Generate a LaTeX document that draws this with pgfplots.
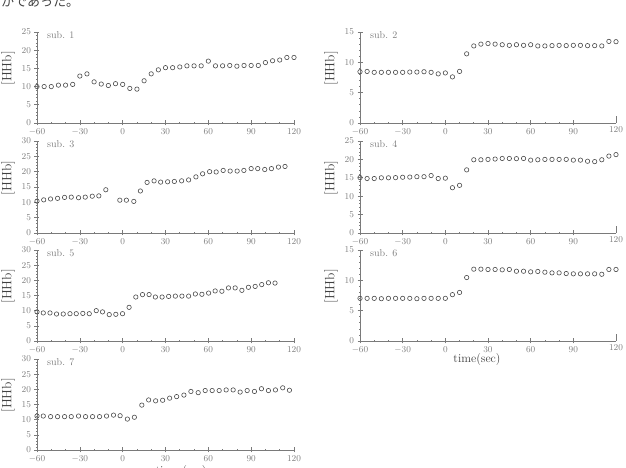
\documentclass[border=0pt]{standalone}
\usepackage{pgfplots}
\pgfplotsset{compat=1.18}
\usepackage{fontspec}
\newfontfamily\cjk{Noto Sans CJK JP}
\definecolor{axgray}{HTML}{7A7A7A}
\definecolor{labgray}{HTML}{7C7C7C}
\definecolor{mkgray}{HTML}{4A4A4A}
\pgfplotsset{
  hhb/.style={
    scale only axis, width=257pt, height=91pt,
    xmin=-60, xmax=120, ymin=0,
    axis x line=bottom, axis y line=left,
    axis line style={-, draw=axgray, line width=0.8pt},
    xtick={-60,-30,...,120}, minor x tick num=2,
    minor y tick num=4,
    tick align=center, major tick length=5pt, minor tick length=2pt,
    every tick/.style={draw=axgray, line width=0.6pt},
    tick label style={font=\fontsize{9}{10}\selectfont, text=labgray},
    clip=false, enlargelimits=false,
  },
  hhbr/.style={hhb, width=256pt,
    xtick={-60,-30,...,90},
    extra x ticks={120},
    extra x tick style={tick align=inside, major tick length=7pt},
  },
  mk/.style={only marks, mark=o, mark size=2.2pt, mark options={draw=mkgray, line width=0.6pt}},
}
\newcommand{\sublab}[1]{\node[anchor=north west, inner sep=0pt, xshift=10pt, yshift=1pt, text=labgray, font=\fontsize{10}{11}\selectfont] at (rel axis cs:0,1) {#1};}
\newcommand{\ylab}{\node[rotate=90, anchor=center, inner sep=0pt, text=black!75, font=\fontsize{13.5}{14}\selectfont] at ([xshift=-29pt]rel axis cs:0,0.6) {[HHb]};}
\begin{document}
\begin{tikzpicture}
\path[use as bounding box] (0pt,0pt) rectangle (626pt,468pt);
\node[anchor=base west, inner sep=0pt, text=black!75, font=\cjk\fontsize{13}{13}\selectfont] at (1pt,461pt) {かであった。};

% sub.1
\begin{axis}[hhb, at={(37pt,345pt)}, anchor=south west, ymax=25, ytick={0,5,...,25}]
\addplot[mk] coordinates {(-60,10.0)(-55,10.0)(-50,10.0)(-45,10.4)(-40,10.4)(-35,10.6)(-30,12.9)(-25,13.5)(-20,11.3)(-15,10.7)(-10,10.3)(-5,10.8)(0,10.6)(5,9.5)(10,9.3)(15,11.6)(20,13.5)(25,14.6)(30,15.2)(35,15.2)(40,15.4)(45,15.7)(50,15.7)(55,15.7)(60,17.0)(65,15.7)(70,15.7)(75,15.8)(80,15.6)(85,15.8)(90,15.8)(95,15.8)(100,16.6)(105,17.1)(110,17.3)(115,18.0)(120,18.0)};
\sublab{sub. 1}\ylab
\end{axis}

% sub.2
\begin{axis}[hhbr, at={(360pt,345pt)}, anchor=south west, ymax=15, ytick={0,5,...,15}]
\addplot[mk] coordinates {(-60,8.45)(-55,8.5)(-50,8.35)(-45,8.35)(-40,8.35)(-35,8.35)(-30,8.35)(-25,8.4)(-20,8.4)(-15,8.45)(-10,8.35)(-5,8.1)(0,8.25)(5,7.6)(10,8.5)(15,11.4)(20,12.7)(25,13.0)(30,13.1)(35,13.0)(40,12.9)(45,12.8)(50,12.9)(55,12.8)(60,12.9)(65,12.7)(70,12.7)(75,12.75)(80,12.8)(85,12.75)(90,12.8)(95,12.8)(100,12.75)(105,12.75)(110,12.7)(115,13.45)(120,13.4)};
\sublab{sub. 2}\ylab
\end{axis}

% sub.3
\begin{axis}[hhb, at={(37pt,235pt)}, anchor=south west, height=92pt, ymax=30, ytick={0,5,...,30}]
\addplot[mk] coordinates {(-60,10.4)(-55.3,10.8)(-50.5,11.1)(-45.6,11.3)(-40.7,11.6)(-36.0,11.7)(-30.9,11.5)(-26.2,11.7)(-21.3,12.0)(-16.7,12.1)(-11.8,14.1)(-2.0,10.7)(2.6,10.7)(7.8,10.3)(12.4,13.7)(17.1,16.5)(22.0,17.0)(26.6,16.6)(31.5,16.7)(36.2,16.8)(41.3,17.0)(46.2,17.3)(51.3,18.3)(56.0,19.3)(60.9,20.0)(65.5,19.9)(70.4,20.4)(75.3,20.2)(80.2,20.2)(84.9,20.4)(90.0,21.0)(94.6,21.0)(99.5,20.7)(104.2,21.0)(109.1,21.5)(113.7,21.7)};
\sublab{sub. 3}\ylab
\end{axis}

% sub.4
\begin{axis}[hhbr, at={(360pt,235pt)}, anchor=south west, height=92pt, ymax=25, ytick={0,5,...,25}]
\addplot[mk] coordinates {(-60,15.05)(-55,14.8)(-50,14.8)(-45,15.0)(-40,15.0)(-35,15.05)(-30,15.15)(-25,15.2)(-20,15.3)(-15,15.3)(-10,15.6)(-5,14.8)(0,14.9)(5,12.3)(10,12.95)(15,17.15)(20,19.9)(25,19.9)(30,20.0)(35,20.1)(40,20.25)(45,20.25)(50,20.2)(55,20.25)(60,19.8)(65,19.9)(70,20.0)(75,20.0)(80,20.0)(85,20.0)(90,19.8)(95,19.8)(100,19.5)(105,19.4)(110,19.9)(115,20.9)(120,21.3)};
\sublab{sub. 4}\ylab
\end{axis}

% sub.5
\begin{axis}[hhb, at={(37pt,127pt)}, anchor=south west, ymax=30, ytick={0,5,...,30}]
\addplot[mk] coordinates {(-60,9.6)(-55.6,9.25)(-50.9,9.25)(-46.3,8.9)(-41.6,8.9)(-36.9,9.0)(-32.5,9.0)(-27.9,9.1)(-23.4,9.0)(-18.5,10.0)(-14.1,9.6)(-9.4,8.7)(-4.8,8.8)(-0.1,9.0)(4.5,11.1)(9.2,14.5)(13.9,15.3)(18.5,15.3)(22.9,14.5)(27.6,14.5)(32.2,14.7)(36.9,14.8)(41.5,14.8)(46.2,14.8)(50.9,15.5)(55.5,15.4)(60.2,15.8)(64.8,16.5)(69.5,16.4)(74.1,17.5)(78.8,17.5)(83.5,16.7)(88.1,17.7)(92.8,18.0)(97.4,18.6)(102.1,19.2)(106.7,19.1)};
\sublab{sub. 5}\ylab
\end{axis}

% sub.6
\begin{axis}[hhbr, at={(360pt,127pt)}, anchor=south west, ymax=15, ytick={0,5,...,15}]
\addplot[mk] coordinates {(-60,7.03)(-55,7.03)(-50,7.03)(-45,6.97)(-40,7.03)(-35,7.03)(-30,7.03)(-25,7.03)(-20,6.97)(-15,7.03)(-10,7.03)(-5,7.03)(0,7.03)(5,7.64)(10,8.0)(15,10.46)(20,11.84)(25,11.84)(30,11.79)(35,11.79)(40,11.73)(45,11.79)(50,11.5)(55,11.5)(60,11.4)(65,11.46)(70,11.34)(75,11.23)(80,11.23)(85,11.12)(90,11.07)(95,11.07)(100,11.07)(105,11.07)(110,11.0)(115,11.79)(120,11.79)};
\sublab{sub. 6}\ylab
\end{axis}
\node[anchor=center, inner sep=0pt, text=black!75, font=\fontsize{12}{12}\selectfont] at (477pt,108pt) {time(sec)};

% sub.7
\begin{axis}[hhb, at={(37pt,18pt)}, anchor=south west, ymax=30, ytick={0,5,...,30}]
\addplot[mk] coordinates {(-60,11.2)(-55.6,11.2)(-50.5,11.0)(-45.6,11.0)(-40.7,11.0)(-36.0,11.0)(-30.9,11.2)(-26.0,11.0)(-21.1,11.0)(-16.2,11.0)(-11.3,11.2)(-6.4,11.5)(-1.8,11.3)(3.3,10.2)(8.2,10.8)(13.4,14.8)(18.2,16.5)(23.1,16.2)(28.0,16.4)(32.9,17.1)(37.8,17.6)(42.9,18.1)(47.8,19.3)(52.9,18.9)(57.8,19.6)(62.7,19.6)(67.6,19.6)(72.5,19.8)(77.4,19.8)(82.3,19.1)(87.2,19.6)(92.3,19.3)(97.2,20.2)(102.1,19.6)(107.0,19.8)(112.1,20.5)(116.8,19.7)};
\sublab{sub. 7}\ylab
\end{axis}
\node[anchor=north, inner sep=0pt, text=black!75, font=\fontsize{12}{12}\selectfont] at (181pt,2.5pt) {time (sec)};
\end{tikzpicture}
\end{document}
